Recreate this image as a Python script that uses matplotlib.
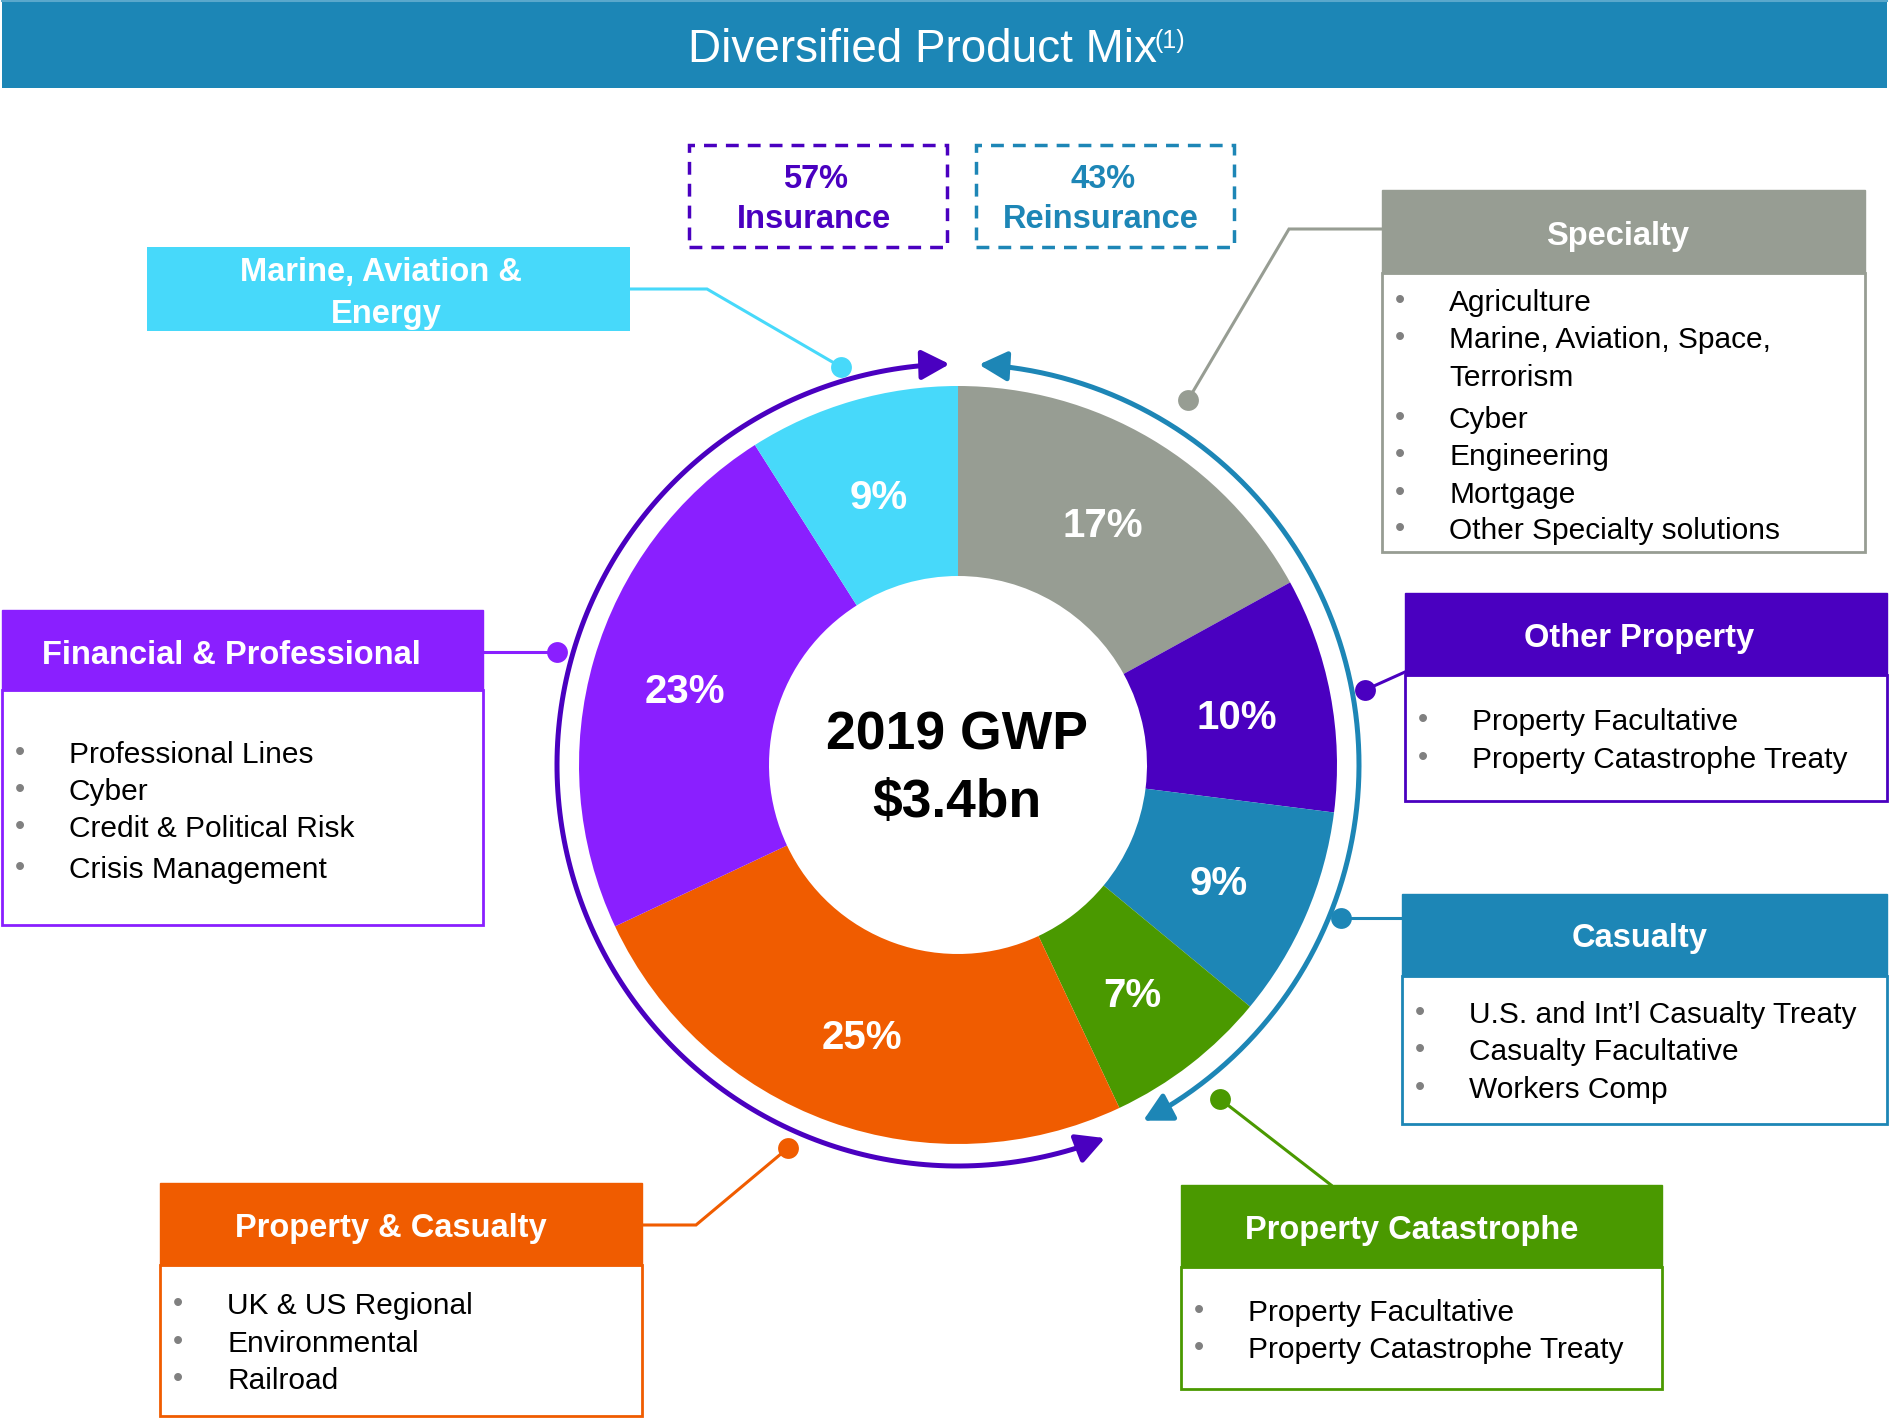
import numpy as np
import matplotlib.pyplot as plt
from matplotlib.patches import Rectangle, FancyArrowPatch
from matplotlib.path import Path

plt.rcParams['font.family'] = ['Liberation Sans', 'DejaVu Sans']

W, H = 1889, 1420

# Pie data (clockwise from 12 o'clock)
segments = ['Specialty', 'Other Property', 'Casualty', 'Property Catastrophe',
            'Property & Casualty', 'Financial & Professional', 'Marine, Aviation & Energy']
shares = [17, 10, 9, 7, 25, 23, 9]
seg_colors = ['#979D93', '#4A00C0', '#1D86B6', '#4A9900', '#F05C00', '#8A1FFF', '#47D9FA']
insurance_segments = ['Property & Casualty', 'Financial & Professional', 'Marine, Aviation & Energy']

# Bullet lists per segment
specialty_items = ['Agriculture', 'Marine, Aviation, Space,\nTerrorism', 'Cyber',
                   'Engineering', 'Mortgage', 'Other Specialty solutions']
finpro_items = ['Professional Lines', 'Cyber', 'Credit & Political Risk', 'Crisis Management']
otherprop_items = ['Property Facultative', 'Property Catastrophe Treaty']
casualty_items = ['U.S. and Int\u2019l Casualty Treaty', 'Casualty Facultative', 'Workers Comp']
propcat_items = ['Property Facultative', 'Property Catastrophe Treaty']
pc_items = ['UK & US Regional', 'Environmental', 'Railroad']

insurance_pct = sum(s for n, s in zip(segments, shares) if n in insurance_segments)
reinsurance_pct = sum(shares) - insurance_pct


def Y(v):
    # layout measured from top of the image
    return H - v


fig = plt.figure(figsize=(W / 100, H / 100), dpi=100)
ax = fig.add_axes([0, 0, 1, 1])

# title bar
ax.add_patch(Rectangle((2, Y(88)), W - 4, 88, fc='#1C86B6', ec='none'))
ax.plot([2, W - 2], [Y(1), Y(1)], color='#5AA8CC', lw=1.5)
ax.text(688, Y(50), 'Diversified Product Mix', color='white', fontsize=33,
        ha='left', va='center')
ax.text(1154, Y(41), '(1)', color='white', fontsize=18, ha='left', va='center')

# donut
cx, cy = 958, Y(765)
r_out, r_in = 379, 189
wedges, _, pcts = ax.pie(shares, colors=seg_colors, startangle=90, counterclock=False,
                         radius=r_out, center=(cx, cy),
                         wedgeprops=dict(width=r_out - r_in, edgecolor='none'),
                         autopct=lambda p: f'{p:.0f}%', pctdistance=0.75,
                         textprops=dict(color='white', fontsize=29, fontweight='bold'))
for t in pcts:
    px, py = t.get_position()
    t.set_position((px, py - 6))

ax.text(957, Y(736), '2019 GWP', fontsize=38.5, fontweight='bold', ha='center', va='center')
ax.text(957, Y(803), r'\$3.4bn', fontsize=38.5, fontweight='bold', ha='center', va='center')

# insurance / reinsurance arcs
R_arc = 401


def arc(a0, a1, color):
    t = np.radians(np.linspace(a0, a1, 200))
    verts = np.column_stack([cx + R_arc * np.cos(t), cy + R_arc * np.sin(t)])
    p = FancyArrowPatch(path=Path(verts), arrowstyle='<|-|>,head_length=0.85,head_width=0.45',
                        mutation_scale=20, color=color, lw=3.6, shrinkA=0, shrinkB=0)
    ax.add_patch(p)


arc(91.2, 291.5, '#4A00C0')
arc(87.0, -62.5, '#1D86B6')

# dashed summary boxes
for x0, pct, name, col in [(689, insurance_pct, 'Insurance', '#4A00C0'),
                           (976, reinsurance_pct, 'Reinsurance', '#1D86B6')]:
    ax.add_patch(Rectangle((x0, Y(247)), 258, 102, fill=False, ec=col, lw=2.5,
                           ls=(0, (3.7, 2.6))))
    ax.text(x0 + 127, Y(180), f'{pct}%', color=col, fontsize=23.5, fontweight='bold',
            ha='center', va='center')
    ax.text(x0 + 125, Y(220), name, color=col, fontsize=23.5, fontweight='bold',
            ha='center', va='center')

# category boxes: x0, x1, top, header bottom, body bottom, title centre, item rows
boxes = [
    ('Specialty', specialty_items, '#979D93', 1382, 1865, 190, 273, 552, (1618, 236),
     [303, 340, 420, 457, 495, 531]),
    ('Financial & Professional', finpro_items, '#8A1FFF', 2, 483, 610, 690, 925, (231, 655),
     [755, 792, 829, 870]),
    ('Other Property', otherprop_items, '#4A00C0', 1405, 1887, 593, 675, 801, (1639, 639),
     [722, 760]),
    ('Casualty', casualty_items, '#1D86B6', 1402, 1887, 894, 976, 1124, (1640, 939),
     [1015, 1052, 1090]),
    ('Property Catastrophe', propcat_items, '#4A9900', 1181, 1662, 1185, 1267, 1389, (1412, 1230),
     [1313, 1350]),
    ('Property & Casualty', pc_items, '#F05C00', 160, 642, 1183, 1265, 1416, (391, 1229),
     [1306, 1344, 1381]),
]

for title, items, col, x0, x1, top, hb, bot, (tx, ty), rows in boxes:
    ax.add_patch(Rectangle((x0, Y(bot)), x1 - x0, bot - hb, fc='white', ec=col, lw=2))
    ax.add_patch(Rectangle((x0, Y(hb)), x1 - x0, hb - top, fc=col, ec=col, lw=1))
    ax.text(tx, Y(ty), title, color='white', fontsize=23.5, fontweight='bold',
            ha='center', va='center')
    for item, yr in zip(items, rows):
        ax.text(x0 + 18, Y(yr - 2), '\u2022', color='#808080', fontsize=21, ha='center', va='center')
        for k, line in enumerate(item.split('\n')):
            ax.text(x0 + 67, Y(yr + 38 * k), line, color='black', fontsize=21.5,
                    ha='left', va='center')

# marine header only box
ax.add_patch(Rectangle((147, Y(331)), 483, 84, fc='#47D9FA', ec='none'))
ax.text(381, Y(272), 'Marine, Aviation &', color='white', fontsize=23.5, fontweight='bold',
        ha='center', va='center')
ax.text(386, Y(314), 'Energy', color='white', fontsize=23.5, fontweight='bold',
        ha='center', va='center')

# leader lines with dots
leaders = [
    ('#47D9FA', [(630, 289), (707, 289), (841, 367)]),
    ('#979D93', [(1382, 229), (1289, 229), (1188, 400)]),
    ('#8A1FFF', [(483, 652), (557, 652)]),
    ('#4A00C0', [(1405, 672), (1365, 690)]),
    ('#1D86B6', [(1402, 918), (1341, 918)]),
    ('#4A9900', [(1331, 1185), (1220, 1099)]),
    ('#F05C00', [(642, 1225), (696, 1225), (788, 1148)]),
]
for col, pts in leaders:
    xs = [p[0] for p in pts]
    ys = [Y(p[1]) for p in pts]
    ax.plot(xs, ys, color=col, lw=2.2, solid_joinstyle='miter')
    ax.plot(xs[-1], ys[-1], 'o', color=col, ms=15, mec='none')

ax.set_xlim(0, W)
ax.set_ylim(0, H)
ax.set_aspect('equal')
ax.axis('off')

fig.savefig('out.png', dpi=100, facecolor='white')
